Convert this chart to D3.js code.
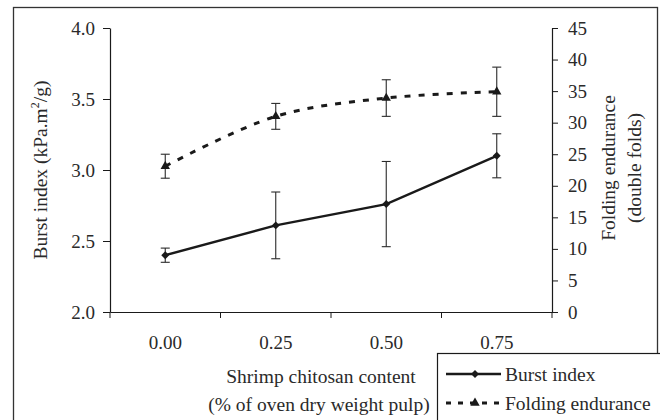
<!DOCTYPE html>
<html>
<head>
<meta charset="utf-8">
<script src="https://cdn.jsdelivr.net/npm/d3@7"></script>
<style>
	body { margin: 0; background: #fff; }
	svg { display: block; font-family: "Liberation Serif", "DejaVu Serif", serif; }
</style>
</head>
<body>
<div id="chart"></div>
<script>
// chitosan content (categories)
var contents = ["0.00", "0.25", "0.50", "0.75"]
// burst index, kPa.m2/g, with error
var burst = [2.40, 2.61, 2.76, 3.10]
var burstErr = [0.05, 0.235, 0.30, 0.155]
// folding endurance, double folds, with error
var folding = [23.1, 31.0, 33.9, 34.9]
var foldingErr = [1.9, 2.05, 2.9, 3.9]
var leftTicks = [2.0, 2.5, 3.0, 3.5, 4.0]
var rightTicks = [0, 5, 10, 15, 20, 25, 30, 35, 40, 45]

var W = 660, H = 420
var margin = {left: 110, right: 108, top: 28, bottom: 108}
var ink = "#1a1a1a", textInk = "#2a2a2a"

var svg = d3.select("#chart").append("svg")
	.attr("width", W)
	.attr("height", H)

// outer frame
svg.append("rect")
	.attr("x", 13.5).attr("y", 7.5)
	.attr("width", 644).attr("height", 430)
	.attr("fill", "none").attr("stroke", "#333").attr("stroke-width", 1.3)

var x = d3.scaleBand()
	.domain(contents)
	.range([margin.left, W - margin.right])

var yL = d3.scaleLinear().domain([2, 4]).range([H - margin.bottom, margin.top])
var yR = d3.scaleLinear().domain([0, 45]).range([H - margin.bottom, margin.top])

var g = svg.append("g")

// axes
var xAxis = g.append("g")
	.attr("transform", `translate(0,${yL(2)})`)
	.call(d3.axisBottom(x).tickSize(0).tickPadding(24).tickSizeOuter(0))
xAxis.selectAll(".tick line").remove()
// ticks sit on the band edges
var edges = contents.map(c => x(c)).concat([x(contents[contents.length - 1]) + x.bandwidth()])
xAxis.selectAll(".edge")
	.data(edges)
	.enter().append("line")
	.attr("x1", d => d).attr("x2", d => d)
	.attr("y1", 0).attr("y2", 6)
	.attr("stroke", ink)

g.append("g")
	.attr("transform", `translate(${margin.left},0)`)
	.call(d3.axisLeft(yL).tickValues(leftTicks).tickFormat(d3.format(".1f")).tickSize(7).tickPadding(8).tickSizeOuter(0))

g.append("g")
	.attr("transform", `translate(${W - margin.right},0)`)
	.call(d3.axisRight(yR).tickValues(rightTicks).tickSize(6).tickPadding(10).tickSizeOuter(0))

svg.selectAll(".domain").attr("stroke", ink).attr("stroke-width", 1.2)
svg.selectAll(".tick line").attr("stroke", ink)
svg.selectAll(".tick text")
	.attr("font-family", "Liberation Serif")
	.attr("font-size", 19)
	.attr("fill", textInk)

var cx = d => x(d) + x.bandwidth() / 2

// error bars
function errorBars(vals, errs, scale) {
	var eb = g.append("g").attr("stroke", "#2a2a2a").attr("stroke-width", 1.1)
	contents.forEach((c, i) => {
		var top = scale(vals[i] + errs[i]), bot = scale(vals[i] - errs[i])
		eb.append("line").attr("x1", cx(c)).attr("x2", cx(c)).attr("y1", top).attr("y2", bot)
		eb.append("line").attr("x1", cx(c) - 4.5).attr("x2", cx(c) + 4.5).attr("y1", top).attr("y2", top)
		eb.append("line").attr("x1", cx(c) - 4.5).attr("x2", cx(c) + 4.5).attr("y1", bot).attr("y2", bot)
	})
}
errorBars(folding, foldingErr, yR)
errorBars(burst, burstErr, yL)

// folding endurance: smoothed dashed line
g.append("path")
	.datum(folding)
	.attr("fill", "none")
	.attr("stroke", ink)
	.attr("stroke-width", 3)
	.attr("stroke-dasharray", "6,8")
	.attr("d", d3.line().x((d, i) => cx(contents[i])).y(d => yR(d)).curve(d3.curveCatmullRom.alpha(0.5)))

g.selectAll(".tri")
	.data(folding)
	.enter().append("path")
	.attr("transform", (d, i) => `translate(${cx(contents[i])},${yR(d)})`)
	.attr("d", d3.symbol(d3.symbolTriangle, 38))
	.attr("fill", ink)

// burst index: solid line
g.append("path")
	.datum(burst)
	.attr("fill", "none")
	.attr("stroke", ink)
	.attr("stroke-width", 2.4)
	.attr("d", d3.line().x((d, i) => cx(contents[i])).y(d => yL(d)))

g.selectAll(".dia")
	.data(burst)
	.enter().append("path")
	.attr("transform", (d, i) => `translate(${cx(contents[i])},${yL(d)})`)
	.attr("d", d3.symbol(d3.symbolDiamond2, 40))
	.attr("fill", ink)

// axis titles
var title = svg.append("g")
	.attr("font-family", "Liberation Serif")
	.attr("font-size", 19.5)
	.attr("fill", textInk)
	.attr("text-anchor", "middle")

title.append("text").attr("x", 321).attr("y", 383).text("Shrimp chitosan content")
title.append("text").attr("x", 319).attr("y", 411).text("(% of oven dry weight pulp)")

var lt = title.append("text")
	.attr("transform", `translate(47,170) rotate(-90)`)
lt.append("tspan").text("Burst index  (kPa.m")
lt.append("tspan").attr("dy", -8).attr("font-size", 12).text("2")
lt.append("tspan").attr("dy", 8).text("/g)")

title.append("text").attr("transform", `translate(615,168) rotate(-90)`).text("Folding endurance")
title.append("text").attr("transform", `translate(641,168) rotate(-90)`).text("(double folds)")

// legend
var legend = svg.append("g")
legend.append("rect")
	.attr("x", 437.5).attr("y", 353.5)
	.attr("width", 230).attr("height", 80)
	.attr("fill", "#fff").attr("stroke", ink).attr("stroke-width", 1.2)

var items = [
	{label: "Burst index", dash: null, sym: d3.symbolDiamond2, size: 40, width: 2.4},
	{label: "Folding endurance", dash: "5,7", sym: d3.symbolTriangle, size: 38, width: 3}
]
items.forEach((it, i) => {
	var ly = 374 + i * 29
	legend.append("line")
		.attr("x1", 446).attr("x2", 501).attr("y1", ly).attr("y2", ly)
		.attr("stroke", ink).attr("stroke-width", it.width)
		.attr("stroke-dasharray", it.dash)
	legend.append("path")
		.attr("transform", `translate(475,${ly})`)
		.attr("d", d3.symbol(it.sym, it.size))
		.attr("fill", ink)
	legend.append("text")
		.attr("x", 505).attr("y", ly + 7)
		.attr("font-family", "Liberation Serif")
		.attr("font-size", 19.5)
		.attr("fill", textInk)
		.text(it.label)
})
</script>
</body>
</html>
